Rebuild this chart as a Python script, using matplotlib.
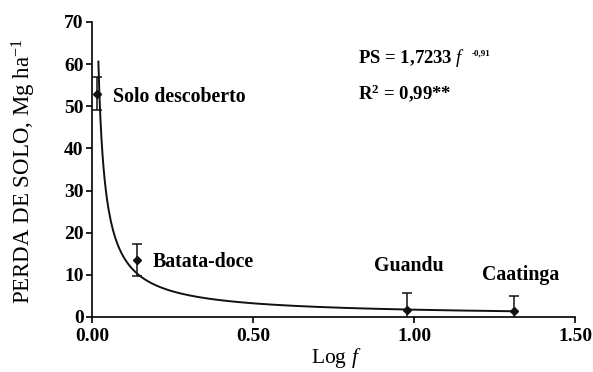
import numpy as np
import matplotlib.pyplot as plt

plt.rcParams['font.family'] = ['Liberation Serif', 'DejaVu Serif']
plt.rcParams['mathtext.fontset'] = 'custom'
plt.rcParams['mathtext.rm'] = 'Liberation Serif'
plt.rcParams['mathtext.it'] = 'Liberation Serif:italic'
plt.rcParams['mathtext.bf'] = 'Liberation Serif:bold'

# data
labels = ['Solo descoberto', 'Batata-doce', 'Guandu', 'Caatinga']
log_f = [0.016, 0.141, 0.979, 1.31]
perda = [53.0, 13.5, 1.6, 1.4]
erro = [4.0, 3.8, 4.1, 3.6]

# fitted model PS = 1.7233 f^-0.91
a, b = 1.7233, -0.91

fig = plt.figure(figsize=(5.93, 3.72), dpi=100)
ax = fig.add_axes([0.155, 0.148, 0.815, 0.793])

xc = np.linspace(0.02, 1.31, 400)
ax.plot(xc, a * xc ** b, color='#111111', lw=1.4, zorder=2)

ax.errorbar(log_f, perda, yerr=erro, fmt='D', color='#111111', ms=4,
            ecolor='#111111', elinewidth=1.1, capsize=3.5, capthick=1.1, zorder=3)

# point labels
ax.text(0.065, 52.2, labels[0], fontsize=14.3, fontweight='bold', va='center', ha='left')
ax.text(0.19, 13.0, labels[1], fontsize=14.3, fontweight='bold', va='center', ha='left')
ax.text(0.983, 12.0, labels[2], fontsize=14.3, fontweight='bold', va='center', ha='center')
ax.text(1.33, 9.9, labels[3], fontsize=14.3, fontweight='bold', va='center', ha='center')

ax.text(0.827, 61.5, r'PS = 1,7233 $\mathit{f}$', fontsize=13.5, fontweight='bold',
        va='center', ha='left')
ax.text(1.18, 62.6, '-0,91', fontsize=6.5, fontweight='bold', va='center', ha='left')
ax.text(0.827, 53.2, r'R$^{\mathbf{2}}$ = 0,99**', fontsize=13.5, fontweight='bold',
        va='center', ha='left')

ax.set_xlim(0, 1.5)
ax.set_ylim(0, 70)
ax.set_xticks([0, 0.5, 1.0, 1.5])
ax.set_xticklabels(['0.00', '0.50', '1.00', '1.50'])
ax.set_yticks(range(0, 71, 10))
for lab in ax.get_xticklabels() + ax.get_yticklabels():
    lab.set_fontweight('bold')
    lab.set_fontsize(14)

ax.spines['top'].set_visible(False)
ax.spines['right'].set_visible(False)
ax.spines['left'].set_linewidth(1.2)
ax.spines['bottom'].set_linewidth(1.2)
ax.tick_params(direction='out', length=4, width=1.2, pad=2)
ax.tick_params(axis='x', pad=4)

ax.set_ylabel(r'PERDA DE SOLO, Mg ha$^{-1}$', fontsize=16.5)
ax.yaxis.set_label_coords(-0.112, 0.495)
ax.set_xlabel(r'Log $\mathit{f}$', fontsize=15.5)
ax.xaxis.set_label_coords(0.505, -0.1)

fig.savefig('out.png', dpi=100)
